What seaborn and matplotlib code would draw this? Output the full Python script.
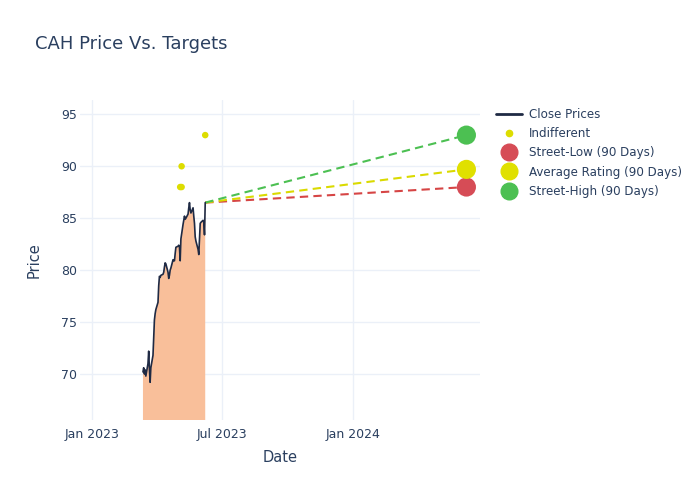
import pandas as pd
import numpy as np
import matplotlib
matplotlib.use("Agg")
import matplotlib.pyplot as plt
import matplotlib.dates as mdates
from matplotlib.lines import Line2D
import seaborn as sns

sns.set_theme(style="white")
plt.rcParams["font.family"] = ["DejaVu Sans"]

# %%
# close prices (business days 2023-03-13 .. 2023-06-08)
close_dates = pd.bdate_range("2023-03-13", "2023-06-08")
close_prices = [
    70.2, 70.6, 70.0, 70.4, 69.8, 71.0, 72.2, 70.5, 69.2, 70.6,
    71.8, 73.5, 75.2, 75.8, 76.2,
    76.9, 78.5, 79.4, 79.3, 79.5, 79.6, 79.8, 80.3, 80.7, 80.6,
    79.8, 79.2, 79.5, 80.0, 80.2, 81.0, 80.9, 80.9, 81.6, 82.2,
    82.3, 82.4, 82.2, 80.9, 83.0, 84.4, 84.8, 85.2, 84.9, 85.0,
    85.4, 86.0, 86.5, 85.8, 85.5, 86.0, 85.2, 84.5, 83.2, 82.8,
    82.0, 81.5, 83.0, 84.5, 84.6, 84.8, 84.6, 83.4, 86.5,
]

# analyst ratings
indiff_dates = pd.to_datetime(["2023-05-04", "2023-05-06", "2023-05-06", "2023-06-08"])
indiff_prices = [88, 88, 90, 93]

target_date = pd.Timestamp("2024-06-07")
target_names = ["Street-Low (90 Days)", "Average Rating (90 Days)", "Street-High (90 Days)"]
target_values = [88.0, 89.7, 93.0]
target_colors = ["#d64c56", "#e0e000", "#4cc052"]
line_colors = ["#d64545", "#dada00", "#4cc052"]

df_close = pd.DataFrame({"Date": close_dates, "Price": close_prices})
df_indiff = pd.DataFrame({"Date": indiff_dates, "Price": indiff_prices})

# %%
text_col = "#2a3f5f"
grid_col = "#ebf0f8"

fig = plt.figure(figsize=(7, 5), dpi=100)
ax = fig.add_axes([80 / 700, 80 / 500, 400 / 700, 320 / 500])

ax.fill_between(df_close["Date"], 0, df_close["Price"], color="#f9bf9a", linewidth=0, zorder=1)
sns.lineplot(data=df_close, x="Date", y="Price", color="#1f2a44", linewidth=1.2, ax=ax, zorder=3)

last_date = df_close["Date"].iloc[-1]
last_price = df_close["Price"].iloc[-1]
for val, col in zip(target_values, line_colors):
    seg = pd.DataFrame({"Date": [last_date, target_date], "Price": [last_price, val]})
    sns.lineplot(data=seg, x="Date", y="Price", color=col, linewidth=1.5,
                 linestyle=(0, (4, 2.5)), ax=ax, zorder=2)

sns.scatterplot(data=df_indiff, x="Date", y="Price", color="#dddd00", s=22,
                edgecolor="none", ax=ax, zorder=4)
for val, col in zip(target_values, target_colors):
    sns.scatterplot(x=[target_date], y=[val], color=col, s=190, edgecolor="none", ax=ax, zorder=5)

ax.set_ylim(65.57, 96.38)
ax.set_xlim(pd.Timestamp("2022-12-15"), pd.Timestamp("2024-06-26"))
ax.set_yticks([70, 75, 80, 85, 90, 95])
ax.set_xticks(pd.to_datetime(["2023-01-01", "2023-07-01", "2024-01-01"]))
ax.xaxis.set_major_formatter(mdates.DateFormatter("%b %Y"))

ax.grid(True, color=grid_col, linewidth=1)
ax.set_axisbelow(True)
for sp in ax.spines.values():
    sp.set_visible(False)
ax.tick_params(length=0, labelsize=9, colors=text_col)
ax.tick_params(axis="y", pad=2)
ax.tick_params(axis="x", pad=6)
ax.set_xlabel("Date", fontsize=10.5, color=text_col, labelpad=6)
ax.set_ylabel("Price", fontsize=10.5, color=text_col, labelpad=14)

fig.text(35 / 700, 1 - 44 / 500, "CAH Price Vs. Targets", fontsize=13, color=text_col,
         ha="left", va="center")

handles = [Line2D([0], [0], color="#1f2a44", linewidth=2),
           Line2D([0], [0], marker="o", linestyle="none", color="#dddd00", markersize=4.5)]
for col in target_colors:
    handles.append(Line2D([0], [0], marker="o", linestyle="none", color=col, markersize=12))
labels = ["Close Prices", "Indifferent"] + target_names
leg = fig.legend(handles, labels, loc="upper left", bbox_to_anchor=(496 / 700, 1 - 108 / 500),
                 frameon=False, fontsize=8.6, labelspacing=0.52, handlelength=2.2,
                 handletextpad=0.55, borderaxespad=0, borderpad=0)
for t in leg.get_texts():
    t.set_color(text_col)

fig.savefig("out.png", dpi=100)
